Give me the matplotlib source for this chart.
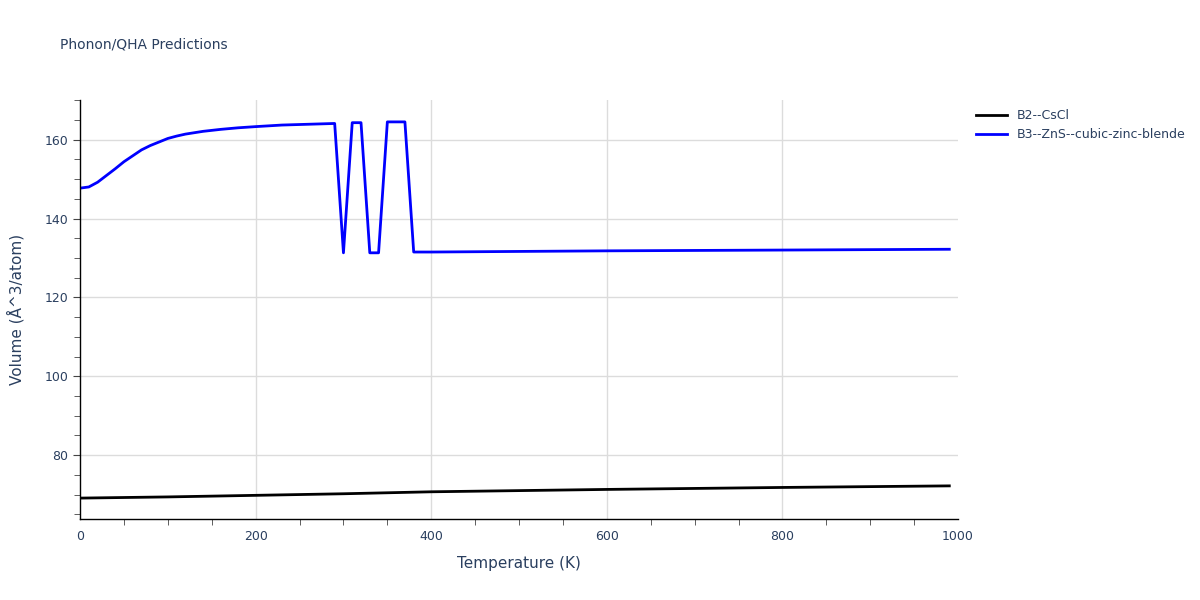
import matplotlib
matplotlib.use('Agg')
import matplotlib.pyplot as plt
from matplotlib.ticker import MultipleLocator

# B2--CsCl
t_cscl = [0, 100, 200, 300, 380, 400, 600, 800, 990]
v_cscl = [69.1, 69.4, 69.8, 70.2, 70.6, 70.7, 71.3, 71.8, 72.2]

# B3--ZnS--cubic-zinc-blende
t_zns = [0, 10, 20, 30, 40, 50, 60, 70, 80, 90, 100, 110, 120, 140, 160, 180,
         200, 230, 260, 290, 300, 310, 320, 330, 340, 350, 360, 370, 380, 400,
         600, 800, 990]
v_zns = [147.7, 148.0, 149.2, 150.9, 152.6, 154.4, 155.9, 157.4, 158.5, 159.4,
         160.3, 160.9, 161.4, 162.1, 162.6, 163.0, 163.3, 163.7, 163.9, 164.1,
         131.3, 164.3, 164.3, 131.3, 131.3, 164.5, 164.5, 164.5, 131.5, 131.5,
         131.8, 132.0, 132.2]

text_col = '#2a3f5f'
grid_col = '#dcdcdc'

fig = plt.figure(figsize=(12, 6), dpi=100)
ax = fig.add_axes([0.0667, 0.135, 0.7317, 0.698])

ax.plot(t_cscl, v_cscl, color='black', lw=2, label='B2--CsCl')
ax.plot(t_zns, v_zns, color='blue', lw=2, label='B3--ZnS--cubic-zinc-blende')

ax.set_xlim(0, 1000)
ax.set_ylim(63.8, 170)
ax.xaxis.set_major_locator(MultipleLocator(200))
ax.xaxis.set_minor_locator(MultipleLocator(50))
ax.yaxis.set_major_locator(MultipleLocator(20))
ax.yaxis.set_minor_locator(MultipleLocator(5))

ax.grid(True, axis='y', which='major', color=grid_col, lw=1)
# vertical grid only inside the range (none on the ends)
x0, x1 = ax.get_xlim()
for xt in ax.get_xticks():
    if x0 < xt < x1:
        ax.axvline(xt, color=grid_col, lw=1, zorder=0)
ax.set_axisbelow(True)
for s in ['top', 'right']:
    ax.spines[s].set_visible(False)
for s in ['left', 'bottom']:
    ax.spines[s].set_color('black')
    ax.spines[s].set_linewidth(1)

ax.tick_params(axis='both', which='major', labelsize=9, labelcolor=text_col,
               color='#444444', length=5)
ax.tick_params(axis='x', which='major', length=0, pad=8)
ax.tick_params(axis='both', which='minor', color='#444444', length=4)

ax.set_xlabel('Temperature (K)', fontsize=11, color=text_col, labelpad=9)
ax.set_ylabel('Volume (Å^3/atom)', fontsize=11, color=text_col, labelpad=14)

fig.text(0.05, 0.925, 'Phonon/QHA Predictions', fontsize=10, color=text_col,
         ha='left', va='center')

ax.legend(loc='upper left', bbox_to_anchor=(1.01, 1.0), frameon=False,
          fontsize=9, labelcolor=text_col, handlelength=2.5,
          borderaxespad=0.3)

plt.savefig('out.png', dpi=100)
plt.close()
